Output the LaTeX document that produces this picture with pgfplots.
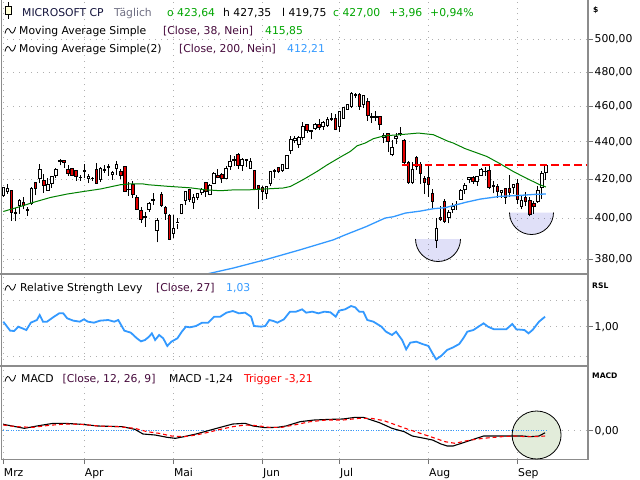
\documentclass[border=0pt]{standalone}
\usepackage{fontspec}
\setmainfont{DejaVu Sans}
\usepackage{pgfplots}
\usepackage{pgfplotstable}
\pgfplotsset{compat=1.18}

\definecolor{candred}{RGB}{228,0,0}
\definecolor{magreen}{RGB}{0,128,0}
\definecolor{mablue}{RGB}{51,153,255}
\definecolor{gridgray}{RGB}{175,175,175}
\definecolor{framegray}{RGB}{140,140,140}
\definecolor{txtgreen}{RGB}{0,165,0}
\definecolor{txtnavy}{RGB}{20,20,60}
\definecolor{txtgray}{RGB}{110,110,130}
\definecolor{brack}{RGB}{70,10,60}
\definecolor{lav}{RGB}{224,224,248}
\definecolor{circgreen}{RGB}{226,236,218}
\definecolor{iconyellow}{RGB}{255,255,215}

\newcommand\hf{\fontsize{10.8bp}{12bp}\selectfont}
\newcommand\smallbf{\fontsize{7.6bp}{9bp}\selectfont\bfseries}
\newcommand\hd[4]{\node[anchor=base west, inner sep=0pt, font=\hf, text=#3] at (#1bp,-#2bp) {#4};}
\newcommand\wave[2]{\draw[black, line width=0.8bp, shift={(#1bp,-#2bp)}]
  (0,-3.5bp) .. controls (1.2bp,2.5bp) and (3.6bp,2.5bp) .. (5bp,-0.5bp)
  .. controls (6.4bp,-4.5bp) and (8.8bp,-4.5bp) .. (10.5bp,2.8bp);}

% daily candles, Mar 1 - Sep 12 (index 0..134)
\pgfplotstableread{
o h l c
411.27 415.87 410.88 415.50
413.44 417.35 412.32 414.92
413.96 414.25 398.79 402.65
402.97 405.16 398.39 402.09
406.12 409.78 402.24 409.14
407.96 410.42 404.33 406.22
403.76 405.68 401.26 404.52
407.62 415.57 406.79 415.28
418.10 418.18 411.45 415.10
420.24 427.82 417.99 425.22
419.29 422.60 412.79 416.42
414.25 420.73 413.78 417.32
417.83 421.67 415.55 421.41
422.00 425.96 420.66 425.23
429.83 430.82 427.16 429.37
429.70 429.86 426.07 428.74
425.24 427.41 421.61 422.86
425.61 425.99 421.35 421.65
424.44 424.45 419.01 421.43
420.96 421.87 419.12 420.72
423.95 427.89 420.29 424.57
420.11 422.38 417.84 421.44
420.11 421.16 419.00 420.45
424.99 428.67 417.57 417.88
420.01 426.51 418.32 425.52
425.17 427.28 423.30 424.59
426.44 427.74 421.62 426.28
422.19 424.04 419.70 423.26
425.82 429.37 422.36 427.93
424.05 425.18 419.77 421.90
426.60 426.82 413.43 413.64
414.57 418.40 411.23 414.58
417.25 418.88 410.33 411.84
410.63 411.89 403.95 404.27
404.03 405.48 397.77 399.12
400.08 402.85 395.75 400.96
404.24 408.20 403.06 407.57
409.56 412.47 406.78 409.06
394.03 399.89 388.03 399.04
412.17 413.00 405.76 406.32
405.25 406.32 399.19 402.25
401.49 402.16 389.17 389.33
392.61 401.72 390.31 394.94
397.66 399.93 394.65 397.84
402.28 407.15 401.86 406.66
408.76 413.72 406.62 413.54
414.35 414.80 408.23 409.34
407.88 412.17 404.66 410.54
410.57 412.72 409.28 412.32
412.93 415.38 411.80 414.74
418.01 418.35 410.82 413.72
412.02 417.49 411.55 416.56
417.90 423.81 417.27 423.08
421.80 425.42 420.35 420.99
422.54 422.92 418.03 420.21
420.21 426.77 419.99 425.34
426.83 432.97 424.85 429.04
430.09 432.41 427.13 430.52
432.97 433.60 425.42 427.00
427.19 431.06 424.41 430.16
429.63 430.82 426.60 430.32
425.69 430.94 425.69 429.17
424.30 424.30 414.24 414.67
416.41 416.41 404.51 415.13
415.53 416.43 408.92 413.52
412.43 416.44 409.68 416.07
417.81 424.08 416.30 424.01
424.01 425.31 420.58 424.52
426.20 426.28 423.00 423.85
424.70 428.08 423.89 427.87
425.48 432.82 425.25 432.68
435.32 443.40 433.25 441.06
440.85 443.39 439.37 441.58
438.28 443.14 436.72 442.57
442.59 450.94 440.72 448.37
449.71 450.14 444.89 446.34
446.30 446.53 441.27 445.70
447.38 450.58 446.51 449.78
449.80 452.75 446.41 447.67
448.25 451.42 446.75 450.95
449.00 453.60 448.19 452.16
452.18 456.17 451.77 452.85
453.07 455.38 446.41 446.95
448.66 457.37 445.66 456.73
453.20 459.59 453.11 459.28
458.19 461.02 457.88 460.77
459.61 468.35 458.97 467.56
466.55 467.70 464.46 466.24
467.00 467.33 458.00 459.54
461.22 466.46 458.86 466.25
462.98 464.78 451.55 454.70
454.33 456.36 450.65 453.55
453.30 457.26 451.43 453.96
454.22 454.30 446.66 449.52
442.59 444.85 439.18 443.52
444.34 444.65 434.40 440.37
433.10 441.14 432.00 437.11
441.79 444.60 438.91 442.94
443.90 448.39 443.10 444.85
440.45 441.48 427.59 428.90
428.80 429.80 417.51 418.40
418.20 428.92 417.27 425.27
431.58 432.15 424.70 426.73
427.72 429.05 417.36 422.92
420.50 421.78 412.21 418.35
420.79 427.46 410.75 417.11
412.49 415.00 404.33 408.49
389.17 400.25 385.58 395.15
400.38 405.85 398.68 399.61
408.64 409.82 397.50 398.43
400.11 403.97 397.42 402.69
404.50 407.49 402.55 406.02
407.06 408.76 404.24 406.81
409.59 414.95 409.57 414.01
414.80 417.72 412.45 416.86
419.80 421.11 417.66 421.03
420.60 421.34 417.30 418.47
418.96 421.75 416.46 421.53
421.70 425.86 421.64 424.80
424.08 426.40 421.72 424.14
424.36 426.79 414.61 415.55
416.16 419.10 412.48 416.79
416.37 417.28 410.34 413.49
412.86 414.36 410.25 413.84
414.88 415.00 407.31 410.60
414.94 422.05 410.60 413.12
415.60 417.49 412.13 417.14
417.91 419.88 407.03 409.44
405.63 411.24 404.37 408.90
410.20 413.10 406.13 408.39
409.06 410.65 400.80 401.70
407.24 408.65 402.15 405.72
408.20 416.33 407.70 414.20
415.50 423.99 409.58 423.04
423.64 427.35 419.75 427.00
}\ohlc

\pgfplotstableread{
x y
0 403.3
4.2 405.8
7.4 407.9
11.6 410.4
15.8 412.2
19.8 413.5
24 414.8
28.9 417.0
30.9 417.4
34.6 417.4
35.8 417.0
40.5 416.2
46.2 415.4
49.9 414.4
53.6 413.9
57.3 414.4
61 414.4
69.1 415.3
70.9 416.1
74 419.6
77.5 424.0
80 427.5
83.2 431.6
85.7 434.7
87.4 437.8
89.4 439.3
91.4 441.7
93.6 443.0
94.8 443.4
98 443.9
102.5 444.8
106.2 443.9
109.9 440.2
111.1 439.3
114.1 436.2
119.4 432.0
122.6 428.2
125.9 424.0
129.2 420.4
132.5 417.0
134 415.85
}\maA

\pgfplotstableread{
x y
46.2 371.2
51.1 373.4
56.8 375.8
65.2 380.0
73.3 384.5
81.5 389.3
84.4 391.7
89.6 395.8
94.3 400.0
96.3 400.65
99.3 402.5
103 403.5
106.2 404.7
109.1 405.2
114.3 408.0
117.8 409.6
122.7 411.0
127.7 411.5
131.1 412.0
134 412.21
}\maB

\pgfplotstableread{
x y
0 1.015
1.7 0.988
2.7 0.987
3.7 1.000
4.7 0.995
5.7 0.990
6.8 1.012
8.3 1.020
9.0 1.035
9.8 1.015
10.8 1.015
12.3 1.028
13.8 1.040
14.8 1.040
15.8 1.025
17.3 1.018
18.9 1.015
19.9 1.022
20.9 1.015
22.4 1.012
23.9 1.018
25.9 1.020
27.4 1.015
28.4 1.020
29.9 0.988
31.5 0.982
33.0 0.965
34.0 0.956
35.0 0.960
36.0 0.970
36.7 0.980
37.5 0.960
38.5 0.975
39.5 0.965
40.5 0.942
41.5 0.955
43.0 0.965
44.1 0.985
45.1 1.000
46.1 0.998
47.6 1.002
49.1 1.012
50.6 1.012
52.1 1.030
53.6 1.030
55.1 1.042
56.7 1.047
58.2 1.040
59.7 1.042
61.2 1.030
61.9 1.002
63.7 1.000
64.7 1.002
65.7 1.020
66.7 1.017
67.7 1.012
69.3 1.022
70.8 1.045
72.3 1.045
73.8 1.052
74.8 1.042
76.3 1.045
77.8 1.040
79.3 1.045
80.8 1.043
82.1 1.030
82.9 1.048
84.4 1.052
85.9 1.062
86.9 1.058
87.9 1.045
88.9 1.045
89.9 1.020
91.4 1.015
93.4 1.000
94.5 0.985
96.0 0.975
97.0 0.985
98.5 0.960
99.5 0.932
100.5 0.952
102.0 0.955
103.5 0.948
105.0 0.942
106.0 0.920
106.9 0.902
108.1 0.912
109.6 0.930
111.1 0.938
112.6 0.948
113.6 0.965
114.6 0.985
116.1 0.990
117.6 1.002
118.6 1.010
119.7 1.000
121.2 0.992
122.7 0.992
124.2 0.992
125.7 1.008
126.7 0.992
128.7 0.990
129.7 0.980
130.7 0.990
132.3 1.015
133.8 1.030
}\rsl

\pgfplotstableread{
x y
0 3.8
2.2 2.8
5.2 1.4
8.3 2.8
12.3 4.4
15.3 4.4
19.4 3.8
23.4 2.8
29.4 2.4
32.5 0.8
34.5 -2.0
37.5 -2.6
40.5 -4.0
42.5 -4.6
44.6 -3.6
47.6 -2.0
50.6 0.0
53.6 2.0
56.7 4.0
59.7 4.4
61.7 2.8
64.7 1.8
67.7 2.0
69.8 2.8
73.3 5.4
76.8 6.4
80.8 6.8
83.9 7.0
86.9 8.0
88.9 8.0
90.9 6.4
92.9 4.8
96.0 1.4
99.0 -0.6
101.0 -3.2
104.0 -4.6
106.0 -5.6
108.1 -8.0
109.6 -9.2
111.1 -9.2
113.1 -7.6
116.1 -5.2
118.6 -3.2
122.2 -3.2
125.7 -3.2
128.2 -3.2
130.2 -3.6
132.3 -3.2
133.8 -1.24
}\macd

\pgfplotstableread{
x y
0 3.4
3.2 2.4
7.3 2.0
11.3 3.2
15.3 4.0
19.4 3.8
23.4 2.8
28.4 2.4
32.5 1.4
35.5 -0.6
38.5 -1.6
41.5 -3.2
44.6 -3.6
47.6 -2.6
50.6 -1.0
53.6 0.8
56.7 2.4
59.7 3.4
62.7 3.0
65.7 2.0
68.8 2.0
71.8 3.4
75.8 5.4
79.8 6.4
83.9 6.4
87.9 7.4
90.9 7.4
94.0 6.0
97.0 3.4
100.0 0.8
103.0 -1.6
106.0 -4.0
109.1 -6.6
111.6 -7.6
114.1 -6.2
117.1 -5.0
120.2 -4.2
123.2 -3.6
126.2 -3.2
129.2 -3.6
131.3 -3.6
133.8 -3.21
}\trig

\pgfplotsset{
  panel/.style={
    scale only axis, width=586.5bp,
    xmin=-0.44, xmax=144.4,
    axis line style={draw=framegray, line width=1bp},
    xtick={0,20,42,64,83,105,127},
    xticklabels={},
    xmajorgrids, ymajorgrids,
    major grid style={draw=gridgray, line width=0.9bp, dash pattern=on 0.9bp off 5bp},
    ytick pos=right, yticklabel pos=right,
    tick align=outside, major tick length=5bp,
    ytick style={draw=black!55, line width=0.8bp},
    xtick style={draw=none},
    yticklabel style={font=\hf, anchor=west, inner sep=0pt, xshift=1.5bp},
  }
}

\begin{document}
\begin{tikzpicture}
\useasboundingbox (0,0) rectangle (640bp,-480bp);

% ---------------- price panel ----------------
\begin{axis}[panel, at={(1.5bp,1bp)}, anchor=north west, height=275bp,
  ymode=log, ymin=373.1, ymax=525.9,
  ytick={380,400,420,440,460,480,500},
  yticklabels={{380,00},{400,00},{420,00},{440,00},{460,00},{480,00},{500,00}}]
  \pgfplotstablegetrowsof{\ohlc}
  \pgfmathtruncatemacro\nlast{\pgfplotsretval-1}
  \pgfplotsforeachungrouped \i in {0,...,\nlast}{%
    \pgfplotstablegetelem{\i}{o}\of\ohlc \let\vo\pgfplotsretval
    \pgfplotstablegetelem{\i}{h}\of\ohlc \let\vh\pgfplotsretval
    \pgfplotstablegetelem{\i}{l}\of\ohlc \let\vl\pgfplotsretval
    \pgfplotstablegetelem{\i}{c}\of\ohlc \let\vc\pgfplotsretval
    \ifdim\vc pt<\vo pt \def\bodycol{candred}\else\def\bodycol{white}\fi
    \pgfmathsetmacro\xa{\i-0.31}%
    \pgfmathsetmacro\xb{\i+0.31}%
    \edef\candle{%
      \noexpand\addplot[draw=black, line width=0.9bp, forget plot] coordinates {(\i,\vl) (\i,\vh)};
      \noexpand\addplot[draw=black, fill=\bodycol, line width=0.9bp, forget plot] coordinates {(\xa,\vo) (\xb,\vo) (\xb,\vc) (\xa,\vc)} -- cycle;
    }%
    \candle
  }

  \addplot[magreen, line width=1bp] table[x=x, y=y] {\maA};
  \addplot[mablue, line width=1.3bp] table[x=x, y=y] {\maB};
  \addplot[red, line width=2.6bp, dash pattern=on 7.5bp off 4bp] coordinates {(98.4,427.35) (144.4,427.35)};
\end{axis}

% bowl annotations (multiplied so the candles stay visible through them)
\begin{scope}[blend mode=multiply]
  \fill[lav] (415.5bp,-239bp) arc[start angle=180, end angle=360, radius=22.5bp] -- cycle;
  \fill[lav] (509.5bp,-212.5bp) arc[start angle=180, end angle=360, radius=22bp] -- cycle;
\end{scope}
\draw[black, line width=0.8bp] (415.5bp,-239bp) arc[start angle=180, end angle=360, radius=22.5bp];
\draw[black, line width=0.8bp] (509.5bp,-212.5bp) arc[start angle=180, end angle=360, radius=22bp];

% ---------------- RSL panel ----------------
\begin{axis}[panel, at={(1.5bp,-274bp)}, anchor=north west, height=92bp,
  ymin=0.882, ymax=1.158,
  ytick={1}, yticklabels={1{,}00},
  extra y ticks={0.91,1.08}, extra y tick labels={},
  extra y tick style={ytick style={draw=none}}]
  \addplot[mablue, line width=1.8bp] table[x=x, y=y] {\rsl};
\end{axis}

% ---------------- MACD panel ----------------
\begin{axis}[panel, at={(1.5bp,-366bp)}, anchor=north west, height=93bp,
  ymin=-17, ymax=38.8,
  ytick={0}, yticklabels={0{,}00},
  xtick pos=bottom,
  xtick style={draw=black!55, line width=0.8bp},
  xticklabels={Mrz,Apr,Mai,Jun,Jul,Aug,Sep},
  xticklabel style={font=\hf, anchor=north west, inner sep=0pt, xshift=0.5bp, yshift=-4bp}]
  \draw[black, fill=circgreen, line width=0.8bp] (axis cs:131.7,-2.6) ellipse [x radius=24.5bp, y radius=24bp];
  \addplot[mablue, line width=0.9bp, dash pattern=on 1bp off 1.5bp] coordinates {(0,0) (134,0)};
  \addplot[black, line width=1.1bp] table[x=x, y=y] {\macd};
  \addplot[red, line width=1.1bp, dash pattern=on 4bp off 3bp] table[x=x, y=y] {\trig};
\end{axis}

% panel separators and right border
\draw[framegray, line width=2.5bp] (0,-274.2bp) -- (588bp,-274.2bp);
\draw[framegray, line width=2.5bp] (0,-366bp) -- (588bp,-366bp);
\draw[framegray, line width=1.5bp] (588bp,0) -- (588bp,-459bp);

% header of price panel
\draw[black, line width=0.8bp] (8bp,-2bp) -- (8bp,-19bp);
\filldraw[fill=iconyellow, draw=black, line width=0.8bp] (5bp,-6.5bp) rectangle (11bp,-14.5bp);
\hd{22}{16.3}{txtnavy}{MICROSOFT CP}
\hd{114}{16.3}{txtgray}{Täglich}
\hd{167}{16.3}{txtgreen}{o 423,64}
\hd{223}{16.3}{black}{h 427,35}
\hd{282}{16.3}{black}{l 419,75}
\hd{333}{16.3}{txtgreen}{c 427,00}
\hd{389}{16.3}{txtgreen}{+3,96}
\hd{430}{16.3}{txtgreen}{+0,94\%}
\wave{5}{30}
\hd{19}{34}{black}{Moving Average Simple}
\hd{163}{34}{brack}{[Close, 38, Nein]}
\hd{265}{34}{txtgreen}{415,85}
\wave{5}{48}
\hd{19}{52}{black}{Moving Average Simple(2)}
\hd{179}{52}{brack}{[Close, 200, Nein]}
\hd{287}{52}{mablue}{412,21}
\node[anchor=west, inner sep=0pt, font=\smallbf] at (593bp,-10bp) {\$};

% header of RSL panel
\wave{5}{287}
\hd{20}{291}{black}{Relative Strength Levy}
\hd{156}{291}{brack}{[Close, 27]}
\hd{226}{291}{mablue}{1,03}
\node[anchor=west, inner sep=0pt, font=\smallbf] at (592bp,-286bp) {RSL};

% header of MACD panel
\wave{5}{378}
\hd{21}{382}{black}{MACD}
\hd{62.5}{382}{brack}{[Close, 12, 26, 9]}
\hd{169}{382}{black}{MACD -1,24}
\hd{244}{382}{red}{Trigger -3,21}
\node[anchor=west, inner sep=0pt, font=\smallbf] at (592bp,-376bp) {MACD};
\end{tikzpicture}
\end{document}
